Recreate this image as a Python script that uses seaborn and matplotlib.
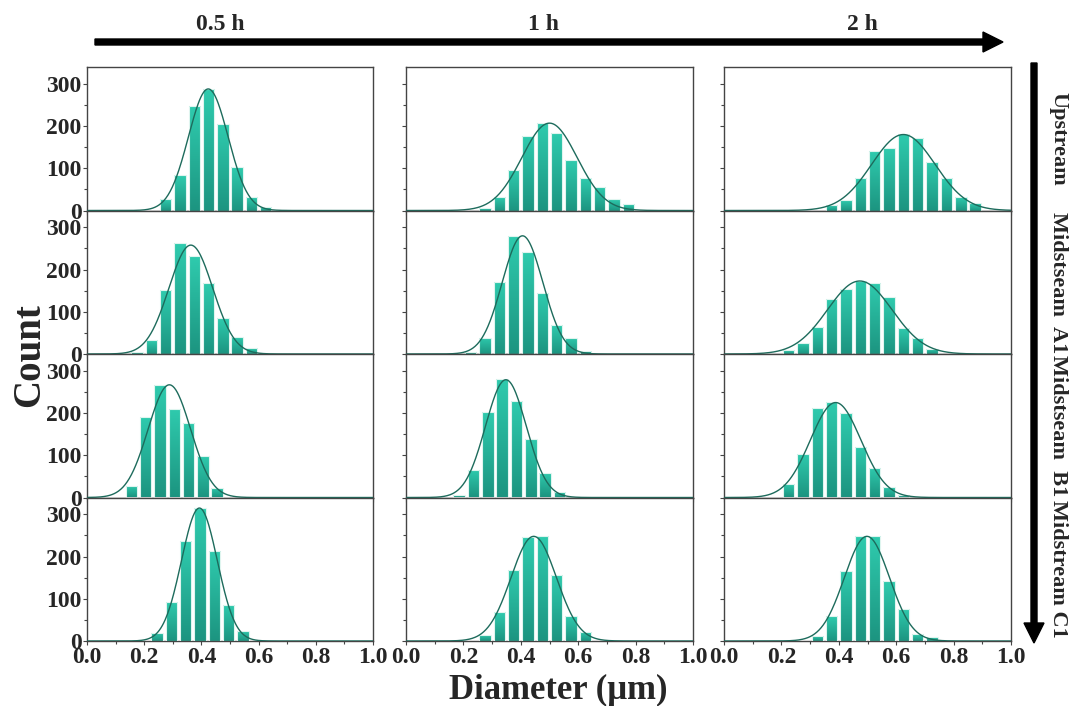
import numpy as np
import pandas as pd
import matplotlib
matplotlib.use("Agg")
import matplotlib.pyplot as plt
import seaborn as sns
from matplotlib.colors import LinearSegmentedColormap
from matplotlib.patches import FancyArrow
from matplotlib.ticker import MultipleLocator, FormatStrFormatter

sns.set_theme(style="white")
plt.rcParams["font.family"] = ["Liberation Serif", "DejaVu Serif"]
plt.rcParams["font.weight"] = "bold"

# ---- labels ----------------------------------------------------------------
times = ["0.5 h", "1 h", "2 h"]
sites = ["Upstream", "Midstseam  A1", "Midstseam  B1", "Midstream C1"]

# ---- histogram data: one list per sampling time, bin width 0.05 µm ---------
bin_width = 0.05

# centre of the first bin in each histogram
upstream_start = [0.275, 0.275, 0.375]
a1_start = [0.175, 0.225, 0.225]
b1_start = [0.155, 0.185, 0.225]
c1_start = [0.245, 0.275, 0.325]

upstream_counts = [
    [28, 85, 248, 288, 205, 104, 32, 9, 2],
    [6, 32, 96, 177, 207, 184, 120, 78, 55, 28, 16],
    [13, 25, 77, 142, 147, 182, 172, 116, 77, 31, 17],
]
a1_counts = [
    [4, 32, 151, 262, 232, 168, 85, 41, 14, 2],
    [4, 38, 171, 280, 241, 144, 68, 39, 8],
    [9, 27, 64, 131, 155, 173, 169, 134, 61, 39, 13],
]
b1_counts = [
    [28, 191, 267, 210, 177, 99, 22],
    [7, 66, 203, 280, 228, 139, 58, 12],
    [31, 102, 211, 226, 200, 120, 69, 25, 7],
]
c1_counts = [
    [19, 93, 236, 315, 214, 86, 24],
    [15, 68, 169, 246, 248, 157, 59, 22],
    [12, 59, 167, 248, 248, 141, 77, 16, 9],
]

# ---- Gaussian fit parameters: centre, peak height, sigma -------------------
upstream_fit = [(0.424, 288, 0.0693), (0.500, 207, 0.0963), (0.625, 180, 0.1107)]
a1_fit = [(0.363, 258, 0.0765), (0.406, 280, 0.0707), (0.473, 173, 0.1124)]
b1_fit = [(0.288, 267, 0.0743), (0.348, 279, 0.0710), (0.389, 225, 0.0879)]
c1_fit = [(0.393, 315, 0.0625), (0.445, 248, 0.0791), (0.498, 248, 0.0786)]

starts = [upstream_start, a1_start, b1_start, c1_start]
counts = [upstream_counts, a1_counts, b1_counts, c1_counts]
fits = [upstream_fit, a1_fit, b1_fit, c1_fit]

# ---- styling ---------------------------------------------------------------
bar_cmap = LinearSegmentedColormap.from_list("teal", ["#1c9480", "#2fcbae"])
curve_color = "#1d6b5c"
spine_color = "#444444"
tick_fs = 17

W, H = 1073, 706
fig = plt.figure(figsize=(W / 100, H / 100), dpi=100)

col_lr = [(87, 373), (406, 693), (724, 1011)]
top_px, bot_px = 67, 641
row_h = (bot_px - top_px) / 4

gradient = np.linspace(0, 1, 256).reshape(-1, 1)
xs = np.linspace(0, 1, 400)

for r in range(4):
    for c in range(3):
        l, rgt = col_lr[c]
        top = top_px + r * row_h
        ax = fig.add_axes([l / W, 1 - (top + row_h) / H, (rgt - l) / W, row_h / H])
        cnt = np.array(counts[r][c], dtype=float)
        centres = starts[r][c] + bin_width * np.arange(len(cnt))
        df = pd.DataFrame({"diameter": centres, "n": cnt})
        sns.histplot(data=df, x="diameter", weights="n", binwidth=bin_width,
                     binrange=(centres[0] - bin_width / 2, centres[-1] + bin_width / 2),
                     shrink=0.8, ax=ax, stat="count", element="bars", fill=True)
        # vertical colour gradient inside every bar
        for p in list(ax.patches):
            x0, y0 = p.get_x(), p.get_y()
            w, h = p.get_width(), p.get_height()
            if h <= 0:
                continue
            im = ax.imshow(gradient, extent=[x0, x0 + w, y0, y0 + h], origin="lower",
                           aspect="auto", cmap=bar_cmap, zorder=2)
            im.set_clip_path(p)
            p.set_facecolor("none")
            p.set_edgecolor("#dff5ef")
            p.set_linewidth(0.8)
            p.set_zorder(3)

        mu, peak, sd = fits[r][c]
        ys = peak * np.exp(-0.5 * ((xs - mu) / sd) ** 2)
        sns.lineplot(x=xs, y=ys, ax=ax, color=curve_color, linewidth=1.0, zorder=4)

        ax.set_xlim(0, 1)
        ax.set_ylim(0, 340)
        ax.set_xlabel("")
        ax.set_ylabel("")
        ax.xaxis.set_major_locator(MultipleLocator(0.2))
        ax.xaxis.set_minor_locator(MultipleLocator(0.1))
        ax.yaxis.set_major_locator(MultipleLocator(100))
        ax.yaxis.set_minor_locator(MultipleLocator(50))
        ax.xaxis.set_major_formatter(FormatStrFormatter("%.1f"))
        ax.tick_params(which="both", direction="out", color=spine_color, width=0.8,
                       bottom=True, left=True, labelsize=tick_fs, pad=1)
        ax.tick_params(which="major", length=3)
        ax.tick_params(which="minor", length=2)
        for s in ax.spines.values():
            s.set_visible(True)
            s.set_color(spine_color)
            s.set_linewidth(1.0)
        if c != 0:
            ax.tick_params(labelleft=False)
        if r != 3:
            ax.tick_params(labelbottom=False)
        for t in ax.get_xticklabels() + ax.get_yticklabels():
            t.set_fontweight("bold")

# ---- overlay: arrows and group labels in pixel coordinates -----------------
ov = fig.add_axes([0, 0, 1, 1], facecolor="none")
ov.set_xlim(0, W)
ov.set_ylim(H, 0)
ov.axis("off")

ov.add_patch(FancyArrow(95, 42, 908, 0, width=6, head_width=20, head_length=20,
                        length_includes_head=True, color="black"))
ov.add_patch(FancyArrow(1034, 63, 0, 580, width=6, head_width=20, head_length=20,
                        length_includes_head=True, color="black"))

for c, label in enumerate(times):
    ov.text([220, 544, 862][c], 25, label, ha="center", va="center",
            fontsize=17, fontweight="bold")

for r, label in enumerate(sites):
    ov.text(1058, top_px + (r + 0.5) * row_h, label, ha="center", va="center",
            rotation=270, fontsize=16, fontweight="bold")

ov.text(30, 355, "Count", ha="center", va="center", rotation=90,
        fontsize=28, fontweight="bold")
ov.text(558, 690, "Diameter (μm)", ha="center", va="center",
        fontsize=25, fontweight="bold")

fig.savefig("out.png", dpi=100)
